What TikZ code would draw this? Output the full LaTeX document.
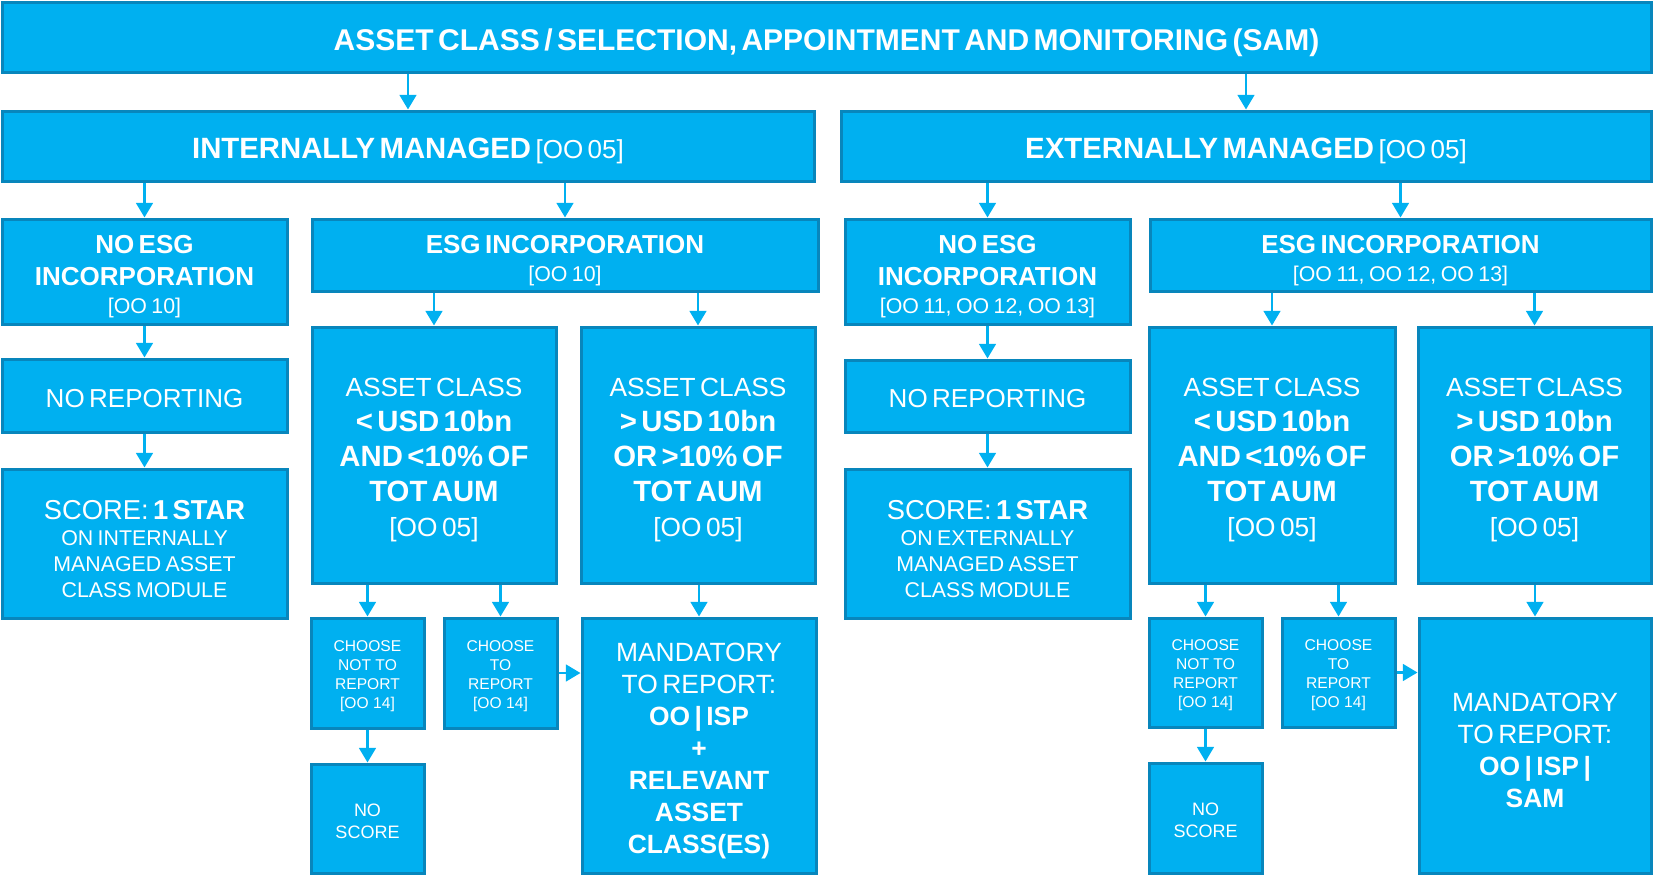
\documentclass[tikz,border=0pt]{standalone}
\usepackage{fontspec}
\setmainfont{Liberation Sans}
\usetikzlibrary{arrows.meta}
\definecolor{boxfill}{HTML}{00B0F0}
\definecolor{boxline}{RGB}{8,134,188}
\definecolor{arrowcol}{HTML}{00B0F0}
\newcommand\fs[2]{\fontsize{#1}{#2}\selectfont}
% \bx[text shift]{name}{x1}{y1}{x2}{y2}{text}
\newcommand\bx[7][4pt]{%
  \pgfmathsetmacro\bw{(#5-#3)*0.75}%
  \pgfmathsetmacro\bh{(#6-#4)*0.75}%
  \pgfmathsetmacro\tw{\bw-6}%
  \node[box,minimum width=\bw pt,minimum height=\bh pt] (#2) at ({(#3+#5)/2},{(#4+#6)/2}) {};
  \node[boxtext,text width=\tw pt] (#2-t) at ([yshift=-#1]#2.center) {#7\par};}
\tikzset{
  box/.style={draw=boxline, fill=boxfill, line width=2.25pt, inner sep=0pt},
  boxtext/.style={text=white, inner sep=0pt, align=center},
  arr/.style={draw=arrowcol, line width=2pt, -{Triangle[width=12.5pt,length=11pt]}}
}
\begin{document}
\begin{tikzpicture}[x=0.75pt,y=-0.75pt]
\useasboundingbox (0,0) rectangle (1653,875);
\parskip=0pt
% row 1
\bx{top}{2}{2}{1651}{72}{\fs{22.5}{26}\bfseries ASSET CLASS / SELECTION, APPOINTMENT AND MONITORING (SAM)}
% row 2
\bx{intm}{2}{111}{814}{181}{\fs{22}{26}\bfseries INTERNALLY MANAGED \mdseries\fs{19.5}{26}[OO 05]}
\bx{extm}{841}{111}{1651}{181}{\fs{22}{26}\bfseries EXTERNALLY MANAGED \mdseries\fs{19.5}{26}[OO 05]}
% row 3
\bx{inoesg}{2}{219}{287}{324}{\fs{19.5}{24}\bfseries NO ESG\\INCORPORATION\par\fs{16}{21}\mdseries [OO 10]}
\bx{iesg}{312}{219}{818}{291}{\fs{19.5}{24}\bfseries ESG INCORPORATION\par\fs{16}{21}\mdseries [OO 10]}
\bx{enoesg}{845}{219}{1130}{324}{\fs{19.5}{24}\bfseries NO ESG\\INCORPORATION\par\fs{16}{21}\mdseries [OO 11, OO 12, OO 13]}
\bx{eesg}{1150}{219}{1651}{291}{\fs{19.5}{24}\bfseries ESG INCORPORATION\par\fs{16}{21}\mdseries [OO 11, OO 12, OO 13]}
% left columns
\bx[2pt]{inorep}{2}{359}{287}{432}{\fs{19.5}{24}NO REPORTING}
\bx[2pt]{enorep}{845}{360}{1130}{432}{\fs{19.5}{24}NO REPORTING}
\bx{iscore}{2}{469}{287}{618}{\fs{20.5}{24}SCORE: \bfseries 1 STAR\par\fs{16}{19.5}\mdseries ON INTERNALLY\\MANAGED ASSET\\CLASS MODULE}
\bx{escore}{845}{469}{1130}{618}{\fs{20.5}{24}SCORE: \bfseries 1 STAR\par\fs{16}{19.5}\mdseries ON EXTERNALLY\\MANAGED ASSET\\CLASS MODULE}
% asset class boxes
\bx{ialt}{312}{327}{556}{583}{\fs{19.7}{26.25}ASSET CLASS\\\fs{22}{26.25}\bfseries < USD 10bn\\AND <10\% OF\\TOT AUM\\\mdseries\fs{19.7}{26.25}[OO 05]}
\bx{iagt}{581}{327}{815}{583}{\fs{19.7}{26.25}ASSET CLASS\\\fs{22}{26.25}\bfseries > USD 10bn\\OR >10\% OF\\TOT AUM\\\mdseries\fs{19.7}{26.25}[OO 05]}
\bx{ealt}{1149}{327}{1395}{583}{\fs{19.7}{26.25}ASSET CLASS\\\fs{22}{26.25}\bfseries < USD 10bn\\AND <10\% OF\\TOT AUM\\\mdseries\fs{19.7}{26.25}[OO 05]}
\bx{eagt}{1418}{327}{1651}{583}{\fs{19.7}{26.25}ASSET CLASS\\\fs{22}{26.25}\bfseries > USD 10bn\\OR >10\% OF\\TOT AUM\\\mdseries\fs{19.7}{26.25}[OO 05]}
% choose boxes
\bx[2pt]{inot}{311}{618}{424}{728}{\fs{11.7}{14.25}CHOOSE\\NOT TO\\REPORT\\{}[OO 14]}
\bx[2pt]{ito}{444}{618}{557}{728}{\fs{11.7}{14.25}CHOOSE\\TO\\REPORT\\{}[OO 14]}
\bx[2pt]{enot}{1149}{618}{1262}{727}{\fs{11.7}{14.25}CHOOSE\\NOT TO\\REPORT\\{}[OO 14]}
\bx[2pt]{eto}{1282}{618}{1395}{727}{\fs{11.7}{14.25}CHOOSE\\TO\\REPORT\\{}[OO 14]}
\bx[2pt]{inosc}{311}{764}{424}{873}{\fs{13.5}{16.5}NO\\SCORE}
\bx[2pt]{enosc}{1149}{763}{1262}{873}{\fs{13.5}{16.5}NO\\SCORE}
% mandatory
\bx{imand}{582}{618}{816}{873}{\fs{19.8}{24}MANDATORY\\TO REPORT:\\\bfseries OO | ISP\\+\\RELEVANT\\ASSET\\CLASS(ES)}
\bx{emand}{1419}{618}{1651}{873}{\fs{19.8}{24}MANDATORY\\TO REPORT:\\\bfseries OO | ISP |\\SAM}
% arrows
\foreach \s/\t in {top/intm, top/extm, intm/inoesg, intm/iesg, extm/enoesg, extm/eesg,
  inoesg/inorep, inorep/iscore, enoesg/enorep, enorep/escore,
  iesg/ialt, iesg/iagt, eesg/ealt, eesg/eagt,
  ialt/inot, ialt/ito, iagt/imand, ealt/enot, ealt/eto, eagt/emand,
  inot/inosc, enot/enosc}
  \draw[arr] (\t.north |- \s.south) -- (\t.north);
\draw[arr] (ito.east) -- (imand.west |- ito.east);
\draw[arr] (eto.east) -- (emand.west |- eto.east);
\end{tikzpicture}
\end{document}
